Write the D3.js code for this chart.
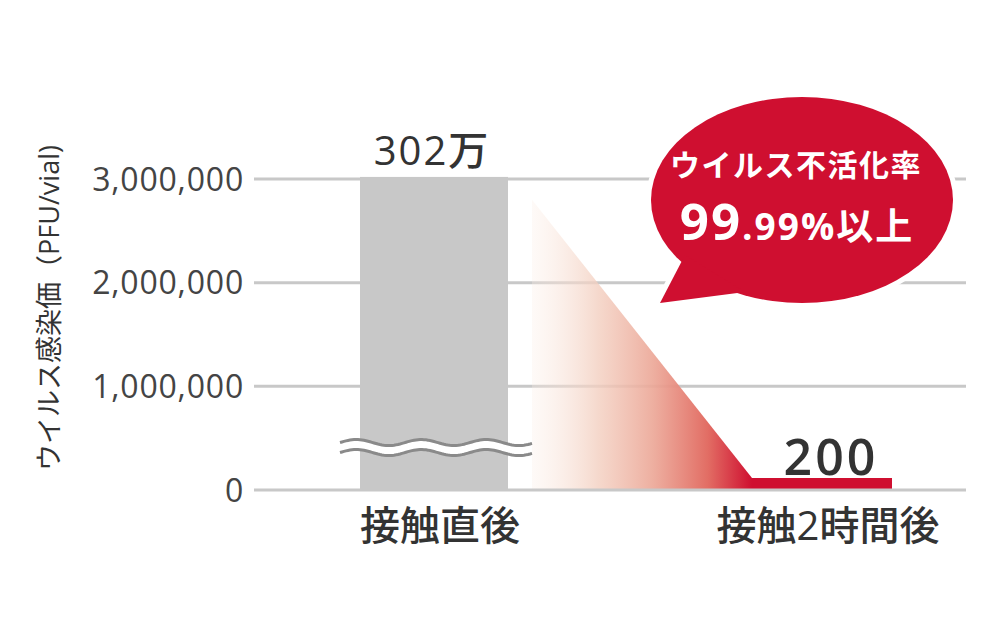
<!DOCTYPE html>
<html>
<head>
<meta charset="utf-8">
<script src="https://cdn.jsdelivr.net/npm/d3@7"></script>
<style>
  body { margin: 0; background: #fff; }
  svg { display: block; }
  text { font-family: "Open Sans", "Noto Sans CJK JP", sans-serif; }
</style>
</head>
<body>
<script>
// data
const categories = ["接触直後", "接触2時間後"];
const values = [3020000, 200];
const valueLabels = ["302万", "200"];
const yTicks = [0, 1000000, 2000000, 3000000];
const yTitle = "ウイルス感染価（PFU/vial)";
const bubbleLine1 = "ウイルス不活化率";
const bubbleBig = "99";
const bubbleSmall = ".99%以上";

const width = 991, height = 632;
const red = "#cf0f30";
const grid = "#c8c8c8";

const svg = d3.select("body").append("svg")
  .attr("width", width)
  .attr("height", height);

// scales
let x = d3.scalePoint().domain(categories).range([433, 827]);
let y = d3.scaleLinear().domain([0, 3000000]).range([490, 179]);
const barW = 146;

// gradient for the drop triangle (white -> salmon -> red)
const defs = svg.append("defs");
const grad = defs.append("linearGradient").attr("id", "drop")
  .attr("x1", "0").attr("x2", "1").attr("y1", "0").attr("y2", "0");
[[0, "#fbeee6", 0.3], [0.3, "#f3cfc0", 0.8], [0.55, "#eca898", 0.92], [0.8, "#e26d64", 1], [1, red, 1]]
  .forEach(([o, c, a]) => grad.append("stop")
    .attr("offset", o).attr("stop-color", c).attr("stop-opacity", a));

// gridlines (non-zero)
svg.append("g")
  .selectAll("line")
  .data(yTicks.filter(d => d > 0))
  .enter().append("line")
  .attr("x1", 254).attr("x2", 966)
  .attr("y1", d => y(d)).attr("y2", d => y(d))
  .attr("stroke", grid).attr("stroke-width", 3);

// y axis tick labels
svg.append("g")
  .selectAll("text")
  .data(yTicks)
  .enter().append("text")
  .attr("x", 244)
  .attr("y", d => y(d))
  .attr("dy", "0.36em")
  .attr("text-anchor", "end")
  .attr("font-size", 32)
  .attr("letter-spacing", 0.8)
  .attr("fill", "#444")
  .text(d => d3.format(",")(d));

// y title
svg.append("text")
  .attr("transform", "translate(59,308) rotate(-90)")
  .attr("text-anchor", "middle")
  .attr("font-size", 27)
  .attr("fill", "#333")
  .text(yTitle);

// bars
svg.append("g")
  .selectAll("rect")
  .data(values)
  .enter().append("rect")
  .attr("x", (d, i) => x(categories[i]) - barW / 2 + (i == 1 ? -2 : 0))
  .attr("width", (d, i) => i == 1 ? barW - 6 : barW + 2)
  .attr("y", d => Math.min(y(d), y(0) - 12))
  .attr("height", d => Math.max(y(0) - y(d), 12))
  .attr("fill", (d, i) => i == 0 ? grid : red);

// drop triangle between the bars
const x0 = x(categories[0]) + barW / 2 + 26;
const x1 = x(categories[1]) - barW / 2 - 2;
const yTop = y(2800000);
svg.append("path")
  .attr("d", `M${x0},${yTop} L${x1},${y(0) - 12} L${x1},${y(0)} L${x0},${y(0)} Z`)
  .attr("fill", "url(#drop)");

// axis break (wavy lines) across the first bar
const waveX = d3.range(340, 534, 2);
const waveY = (px, yc) => yc - 3 * Math.sin((px - 340) / 65 * 2 * Math.PI);
const yb = y(400000);
const bandPts = waveX.map(px => [px, waveY(px, yb - 5)])
  .concat(waveX.slice().reverse().map(px => [px, waveY(px, yb + 3)]));
svg.append("path").attr("d", d3.line()(bandPts) + "Z").attr("fill", "#fff");
[yb - 6, yb + 4].forEach(yc => {
  svg.append("path").attr("d", d3.line()(waveX.map(px => [px, waveY(px, yc)])))
    .attr("fill", "none").attr("stroke", "#8a8a8a").attr("stroke-width", 3);
});

// zero line
svg.append("line")
  .attr("x1", 254).attr("x2", 966)
  .attr("y1", y(0)).attr("y2", y(0))
  .attr("stroke", grid).attr("stroke-width", 3);

// value labels
svg.append("text")
  .attr("x", x(categories[0]) - 1)
  .attr("y", y(values[0]) - 12)
  .attr("text-anchor", "middle")
  .attr("font-size", 40)
  .attr("font-weight", 500)
  .attr("letter-spacing", 2)
  .attr("fill", "#333")
  .text(valueLabels[0]);

svg.append("text")
  .attr("x", x(categories[1]) + 4)
  .attr("y", 475)
  .attr("text-anchor", "middle")
  .attr("font-size", 50)
  .attr("font-weight", 600)
  .attr("letter-spacing", 3)
  .attr("fill", "#333")
  .text(valueLabels[1]);

// category labels
svg.append("g")
  .selectAll("text")
  .data(categories)
  .enter().append("text")
  .attr("x", (d, i) => x(d) + (i == 0 ? 7 : 1))
  .attr("y", 540)
  .attr("text-anchor", "middle")
  .attr("font-size", 40)
  .attr("font-weight", 500)
  .attr("fill", "#333")
  .text(d => d);

// speech bubble
const bx = 802, by = 200, brx = 151, bry = 103;
const tail = [[685, 255], [660, 303], [745, 292]];
const bubble = svg.append("g");
[["#fff", 10], [red, 0]].forEach(([c, sw]) => {
  bubble.append("ellipse")
    .attr("cx", bx).attr("cy", by).attr("rx", brx).attr("ry", bry)
    .attr("fill", c).attr("stroke", c).attr("stroke-width", sw);
  bubble.append("path")
    .attr("d", d3.line()(tail) + "Z")
    .attr("fill", c).attr("stroke", c).attr("stroke-width", sw)
    .attr("stroke-linejoin", "round");
});

bubble.append("text")
  .attr("x", 796).attr("y", 176)
  .attr("text-anchor", "middle")
  .attr("font-size", 30)
  .attr("font-weight", 700)
  .attr("letter-spacing", 1.5)
  .attr("fill", "#fff")
  .text(bubbleLine1);

const big = bubble.append("text")
  .attr("x", 797).attr("y", 240)
  .attr("text-anchor", "middle")
  .attr("font-weight", 700)
  .attr("letter-spacing", 2)
  .attr("fill", "#fff");
big.append("tspan").attr("font-size", 51).text(bubbleBig);
big.append("tspan").attr("font-size", 37).text(bubbleSmall);
</script>
</body>
</html>
